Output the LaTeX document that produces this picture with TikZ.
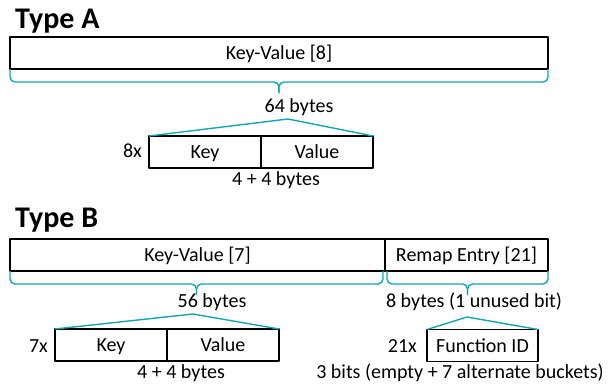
\documentclass[tikz,border=0pt]{standalone}
\usepackage{fontspec}
\setmainfont{Carlito}
\usetikzlibrary{positioning,calc}
\definecolor{braceteal}{RGB}{20,165,182}
\tikzset{
	cell/.style={draw, line width=1.7pt, outer sep=0pt, inner sep=0pt, minimum height=32pt, text height=13pt, text depth=0pt},
	brace/.style={draw=braceteal, line width=1.4pt, rounded corners=5pt},
	fan/.style={draw=braceteal, line width=1.4pt},
	lbl/.style={anchor=base, inner sep=0pt},
	title/.style={anchor=base west, inner sep=0pt, font=\fontsize{30}{35}\selectfont\bfseries}
}
\begin{document}
\begin{tikzpicture}[x=1pt, y=-1pt, font=\fontsize{20}{24}\selectfont, line join=round]
				\useasboundingbox (0,0) rectangle (614,386);
				% Type A
				\node[title] (titleA) at (15,28) {Type A};
				\node[cell, minimum width=538] (kvA) at (279,53) {Key-Value [8]};
				\node[cell, minimum width=112] (keyA) at (205,152) {Key};
				\node[cell, minimum width=112, right=0pt of keyA] (valA) {Value};
				\node[lbl] (bytesA) at (299,112) {64 bytes};
				\node[lbl, anchor=base east] (cntA) at (142,157) {8x};
				\node[lbl] (sizeA) at (276,185) {4 + 4 bytes};
				\path 
				($(kvA.south)+(0,13)$) coordinate (tipA)
				(288,119) coordinate (apexA)
				;
				\draw[brace] (kvA.south west) |- (tipA) -- ++(0,11);
				\draw[brace] (kvA.south east) |- (tipA) -- ++(0,11);
				\draw[fan] (keyA.north west) -- (apexA) -- (valA.north east);
				% Type B
				\node[title] (titleB) at (15,227) {Type B};
				\node[cell, minimum width=375] (kvB) at (197.5,255) {Key-Value [7]};
				\node[cell, minimum width=163, right=0pt of kvB] (remapB) {Remap Entry [21]};
				\node[cell, minimum width=112] (keyB) at (111,345) {Key};
				\node[cell, minimum width=112, right=0pt of keyB] (valB) {Value};
				\node[cell, minimum width=111] (funcB) at (482.5,345.5) {Function ID};
				\node[lbl] (bytesB) at (212,307) {56 bytes};
				\node[lbl] (bitsB) at (474,307) {8 bytes (1 unused bit)};
				\node[lbl, anchor=base east] (cntB) at (48,352) {7x};
				\node[lbl, anchor=base east] (cntF) at (417,352) {21x};
				\node[lbl] (sizeB) at (181,378) {4 + 4 bytes};
				\node[lbl] (sizeF) at (460,378) {3 bits (empty + 7 alternate buckets)};
				\path 
				($(kvB.south west)!0.5!([xshift=-2pt]kvB.south east)+(0,13)$) coordinate (tipB)
				($([xshift=2pt]remapB.south west)!0.5!(remapB.south east)+(0,13)$) coordinate (tipR)
				(193,314) coordinate (apexB)
				(467,317) coordinate (apexR)
				;
				\draw[brace] (kvB.south west) |- (tipB) -- ++(0,11);
				\draw[brace] ([xshift=-2pt]kvB.south east) |- (tipB) -- ++(0,11);
				\draw[brace] ([xshift=2pt]remapB.south west) |- (tipR) -- ++(0,11);
				\draw[brace] (remapB.south east) |- (tipR) -- ++(0,11);
				\draw[fan] (keyB.north west) -- (apexB) -- (valB.north east);
				\draw[fan] (funcB.north west) -- (apexR) -- (funcB.north east);
			\end{tikzpicture}
\end{document}
